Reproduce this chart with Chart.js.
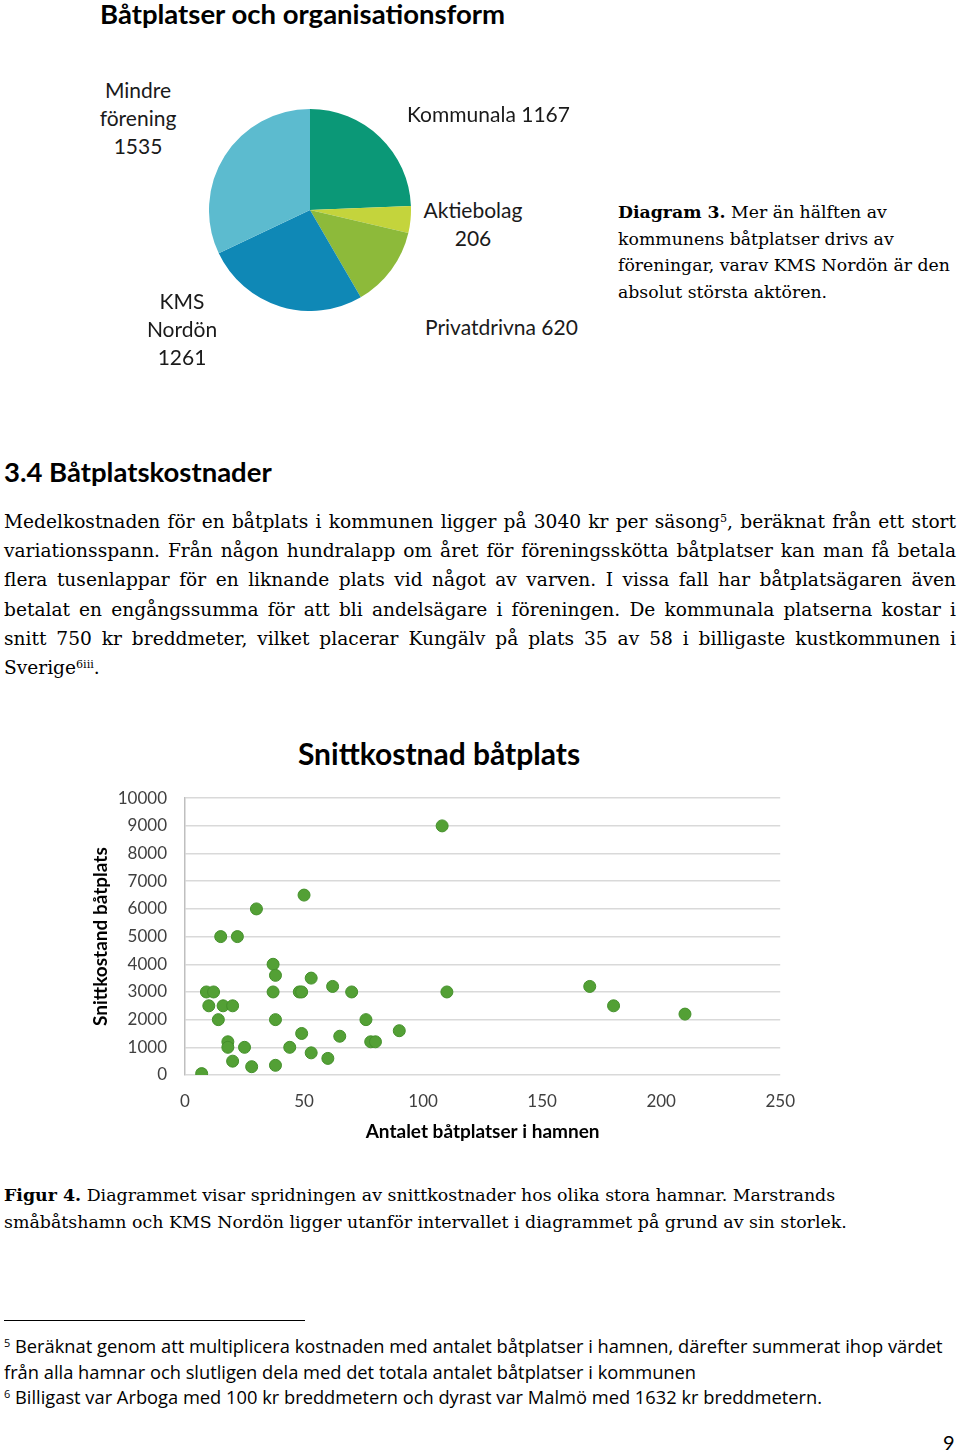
<!DOCTYPE html>
<html lang="sv">
<head>
<meta charset="utf-8">
<script src="https://cdn.jsdelivr.net/npm/chart.js@4.4.1/dist/chart.umd.min.js"></script>
<style>
  html, body { margin: 0; padding: 0; background: #fff; }
  body { width: 960px; height: 1452px; position: relative; overflow: hidden; color: #000; }
  .abs { position: absolute; white-space: nowrap; }
  .calibri { font-family: Lato, "Open Sans", sans-serif; }
  .serif { font-family: "DejaVu Serif", serif; }
  .pielabel { font-family: Lato, sans-serif; font-size: 21px; line-height: 28px; text-align: center; color: #1a1a1a; }
  .body-line { width: 952px; text-align: justify; text-align-last: justify; white-space: nowrap; }
  sup { font-size: 60%; vertical-align: 0.55em; line-height: 0; }
</style>
</head>
<body>

<div class="abs calibri" style="left:100px; top:-4px; font-size:27.5px; font-weight:700; line-height:36px;">Båtplatser och organisationsform</div>

<canvas id="pieChart" class="abs" style="left:209px; top:109px;" width="202" height="202"></canvas>

<div class="abs pielabel" style="left:88px; top:76px; width:100px;">Mindre<br>förening<br>1535</div>
<div class="abs pielabel" style="left:407px; top:100px;">Kommunala 1167</div>
<div class="abs pielabel" style="left:413px; top:196px; width:120px;">Aktiebolag<br>206</div>
<div class="abs pielabel" style="left:425px; top:313px;">Privatdrivna 620</div>
<div class="abs pielabel" style="left:132px; top:287px; width:100px;">KMS<br>Nordön<br>1261</div>

<div class="abs serif" style="left:618px; top:199px; font-size:17.3px; line-height:26.7px;">
  <b>Diagram 3.</b> Mer än hälften av<br>kommunens båtplatser drivs av<br>föreningar, varav KMS Nordön är den<br>absolut största aktören.
</div>

<div class="abs calibri" style="left:4px; top:454px; font-size:27.5px; font-weight:700; line-height:36px;">3.4 Båtplatskostnader</div>

<div class="abs serif" style="left:4px; top:507px; font-size:18.6px; line-height:29.2px;">
  <div class="body-line">Medelkostnaden för en båtplats i kommunen ligger på 3040 kr per säsong<sup>5</sup>, beräknat från ett stort</div>
  <div class="body-line">variationsspann. Från någon hundralapp om året för föreningsskötta båtplatser kan man få betala</div>
  <div class="body-line">flera tusenlappar för en liknande plats vid något av varven. I vissa fall har båtplatsägaren även</div>
  <div class="body-line">betalat en engångssumma för att bli andelsägare i föreningen. De kommunala platserna kostar i</div>
  <div class="body-line">snitt 750 kr breddmeter, vilket placerar Kungälv på plats 35 av 58 i billigaste kustkommunen i</div>
  <div>Sverige<sup>6iii</sup>.</div>
</div>

<div class="abs calibri" style="left:239px; top:733px; width:400px; text-align:center; font-size:30px; font-weight:700; line-height:40px;">Snittkostnad båtplats</div>

<canvas id="scatterChart" class="abs" style="left:80px; top:770px;" width="731" height="385"></canvas>

<div class="abs serif" style="left:4px; top:1182px; font-size:17.4px; line-height:26.7px;">
  <b>Figur 4.</b> Diagrammet visar spridningen av snittkostnader hos olika stora hamnar. Marstrands<br>småbåtshamn och KMS Nordön ligger utanför intervallet i diagrammet på grund av sin storlek.
</div>

<div class="abs" style="left:4px; top:1320px; width:301px; height:1px; background:#000;"></div>

<div class="abs" style="left:4px; top:1333px; font-family:'Open Sans', sans-serif; font-size:18.3px; line-height:25.7px;">
  <sup>5</sup> Beräknat genom att multiplicera kostnaden med antalet båtplatser i hamnen, därefter summerat ihop värdet<br>från alla hamnar och slutligen dela med det totala antalet båtplatser i kommunen<br><sup>6</sup> Billigast var Arboga med 100 kr breddmetern och dyrast var Malmö med 1632 kr breddmetern.
</div>

<div class="abs calibri" style="left:943px; top:1429px; font-size:20px; line-height:26px;">9</div>

<script>
// pie: organisationsform
const pieLabels = ['Kommunala', 'Aktiebolag', 'Privatdrivna', 'KMS Nordön', 'Mindre förening'];
const pieValues = [1167, 206, 620, 1261, 1535];
const pieColors = ['#0b9877', '#c4d43c', '#8dba3a', '#0f88b6', '#5cbbcf'];

// scatter: antal båtplatser i hamnen vs snittkostnad (kr)
const harbourSizes = [108, 50, 30, 15, 22, 37, 38, 53, 62, 9, 12, 37, 48, 49, 70, 110, 10, 16, 20, 14,
  38, 76, 49, 65, 90, 18, 18, 25, 44, 78, 80, 20, 53, 60, 28, 38, 7, 170, 180, 210];
const avgCosts = [9000, 6500, 6000, 5000, 5000, 4000, 3600, 3500, 3200, 3000, 3000, 3000, 3000, 3000, 3000, 3000, 2500, 2500, 2500, 2000,
  2000, 2000, 1500, 1400, 1600, 1200, 1000, 1000, 1000, 1200, 1200, 500, 800, 600, 300, 350, 50, 3200, 2500, 2200];
const xTicks = [0, 50, 100, 150, 200, 250];
const yTicks = [0, 1000, 2000, 3000, 4000, 5000, 6000, 7000, 8000, 9000, 10000];

new Chart(document.getElementById('pieChart'), {
  type: 'pie',
  data: {
    labels: pieLabels,
    datasets: [{ data: pieValues, backgroundColor: pieColors, borderWidth: 0 }]
  },
  options: {
    responsive: false,
    animation: false,
    layout: { padding: 0 },
    plugins: { legend: { display: false }, tooltip: { enabled: false } }
  }
});

const points = harbourSizes.map((x, i) => ({ x: x, y: avgCosts[i] }));

new Chart(document.getElementById('scatterChart'), {
  type: 'scatter',
  data: {
    datasets: [{
      data: points,
      backgroundColor: '#53a035',
      borderColor: '#44902b',
      borderWidth: 1,
      pointRadius: 6
    }]
  },
  options: {
    responsive: false,
    animation: false,
    layout: { padding: 0 },
    plugins: { legend: { display: false }, tooltip: { enabled: false } },
    scales: {
      x: {
        type: 'linear',
        min: xTicks[0],
        max: xTicks[xTicks.length - 1],
        afterBuildTicks: (scale) => { scale.ticks = xTicks.map(v => ({ value: v })); },
        afterFit: (scale) => { scale.height = 80; },
        grid: { display: false, drawTicks: false },
        border: { display: false },
        ticks: { padding: 16, color: '#404040', font: { family: 'Lato', size: 17 }, callback: (v) => String(v) },
        title: {
          display: true,
          text: 'Antalet båtplatser i hamnen',
          color: '#000',
          font: { family: 'Lato', size: 19, weight: 'bold' },
          padding: { top: 0, bottom: 12 }
        }
      },
      y: {
        type: 'linear',
        min: yTicks[0],
        max: yTicks[yTicks.length - 1],
        afterBuildTicks: (scale) => { scale.ticks = yTicks.map(v => ({ value: v })); },
        afterFit: (scale) => { scale.width = 105; },
        grid: { color: '#d9d9d9', lineWidth: 1.5, drawTicks: false },
        border: { display: true, color: '#bfbfbf', width: 1.5 },
        ticks: { padding: 18, color: '#404040', font: { family: 'Lato', size: 17 }, callback: (v) => String(v) },
        title: {
          display: true,
          text: 'Snittkostand båtplats',
          color: '#000',
          font: { family: 'Lato', size: 19, weight: 'bold' },
          padding: { top: 9, bottom: 0 }
        }
      }
    }
  }
});
</script>
</body>
</html>
